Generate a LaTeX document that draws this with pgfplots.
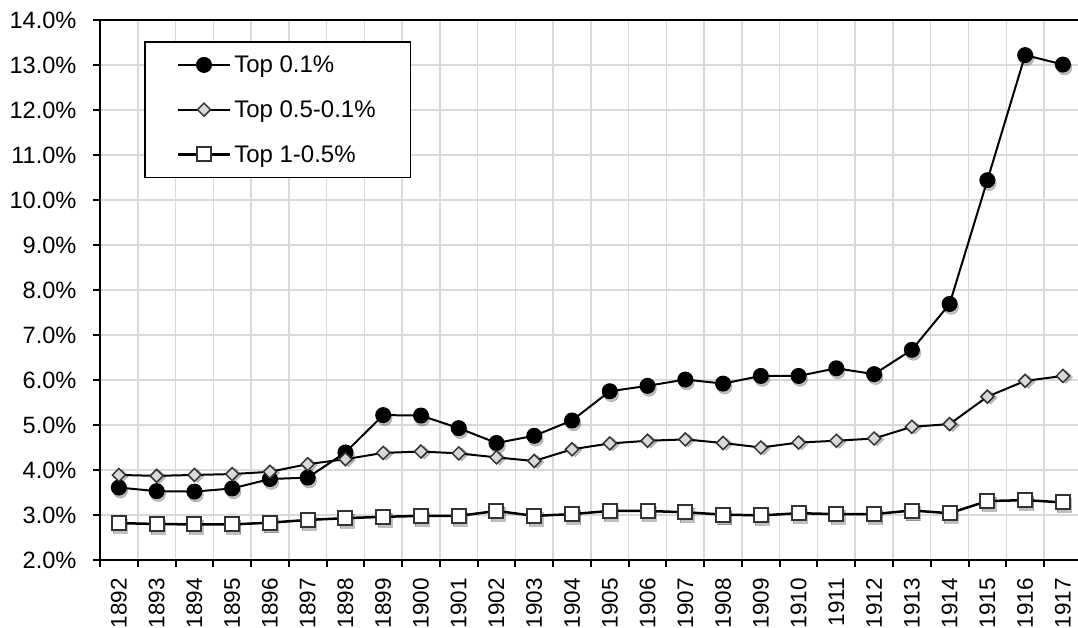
\documentclass[border=0pt]{standalone}
\usepackage{fontspec}
\setmainfont{Liberation Sans}
\usepackage{pgfplots}
\usepackage{pgfplotstable}
\pgfplotsset{compat=1.18}
\definecolor{gridgray}{HTML}{D9D9D9}
\definecolor{diafill}{HTML}{D9D9D9}
\definecolor{edge}{HTML}{333333}

\pgfplotstableread{
x a b c
0 3.61 3.89 2.82
1 3.53 3.87 2.80
2 3.52 3.89 2.79
3 3.59 3.91 2.79
4 3.80 3.96 2.83
5 3.83 4.13 2.89
6 4.39 4.24 2.93
7 5.22 4.38 2.96
8 5.21 4.41 2.98
9 4.93 4.37 2.98
10 4.60 4.28 3.09
11 4.76 4.20 2.98
12 5.10 4.46 3.02
13 5.75 4.59 3.09
14 5.87 4.65 3.09
15 6.01 4.68 3.06
16 5.92 4.60 3.01
17 6.09 4.50 2.99
18 6.09 4.61 3.04
19 6.26 4.65 3.02
20 6.13 4.70 3.02
21 6.67 4.96 3.10
22 7.69 5.02 3.04
23 10.44 5.63 3.31
24 13.22 5.98 3.33
25 13.01 6.09 3.28
}\data

\begin{document}
\begin{tikzpicture}
\begin{axis}[
  scale only axis, width=978bp, height=540bp,
  xmin=-0.5, xmax=25.4, ymin=2, ymax=14,
  axis x line*=bottom, axis y line*=left,
  axis line style={line width=2bp, -},
  xtick={0,...,25},
  xticklabels={1892,1893,1894,1895,1896,1897,1898,1899,1900,1901,1902,1903,1904,1905,1906,1907,1908,1909,1910,1911,1912,1913,1914,1915,1916,1917},
  major x tick style={draw=none},
  minor xtick={-0.5,0.5,...,24.5},
  xminorgrids, ymajorgrids,
  minor grid style={gridgray, line width=1.5bp},
  major grid style={gridgray, line width=1.5bp},
  tick align=outside,
  major tick length=7bp, minor tick length=7bp,
  every tick/.style={black, line width=2bp},
  ytick={2,...,14},
  yticklabels={2.0\%,3.0\%,4.0\%,5.0\%,6.0\%,7.0\%,8.0\%,9.0\%,10.0\%,11.0\%,12.0\%,13.0\%,14.0\%},
  yticklabel style={font=\fontsize{23.6bp}{28bp}\selectfont, xshift=-13bp},
  xticklabel style={font=\fontsize{22.5bp}{27bp}\selectfont, rotate=90, anchor=east, xshift=-7.5bp},
  legend cell align=left,
  legend image code/.code={\draw[mark repeat=2,mark phase=2,#1] plot coordinates {(0bp,0bp) (26bp,0bp) (52bp,0bp)};},
  legend style={at={(0.045,0.961)}, anchor=north west, draw=black, line width=1.5bp, fill=white,
    font=\fontsize{24bp}{28bp}\selectfont, inner xsep=32bp, inner ysep=12bp, row sep=22.5bp,
    nodes={inner xsep=3bp, inner ysep=2bp}},
]
% shadows
\addplot[forget plot, draw=none, mark=*, mark size=7.5bp, mark options={fill=black, draw=none, opacity=0.25, xshift=1.5bp, yshift=-3bp}] table[x=x,y=a] {\data};
\addplot[forget plot, draw=none, mark=square*, mark size=4.6bp, mark options={rotate=45, fill=black, draw=none, opacity=0.25, xshift=1.5bp, yshift=-3bp}] table[x=x,y=b] {\data};
\addplot[forget plot, draw=none, mark=square*, mark size=7bp, mark options={fill=black, draw=none, opacity=0.25, xshift=1.5bp, yshift=-3bp}] table[x=x,y=c] {\data};
% series
\addplot[black, line width=2bp, mark=*, mark size=7.5bp, mark options={fill=black, draw=black, line width=1bp}] table[x=x,y=a] {\data};
\addlegendentry{Top 0.1\%}
\addplot[black, line width=2bp, mark=square*, mark size=4.6bp, mark options={rotate=45, fill=diafill, draw=edge, line width=1.5bp}] table[x=x,y=b] {\data};
\addlegendentry{Top 0.5-0.1\%}
\addplot[black, line width=2.5bp, mark=square*, mark size=7bp, mark options={fill=white, draw=edge, line width=2bp}] table[x=x,y=c] {\data};
\addlegendentry{Top 1-0.5\%}
\draw[black, line width=2bp] (rel axis cs:0,1) -- (rel axis cs:1,1);
\end{axis}
\pgfresetboundingbox
\path (-100bp,-68bp) rectangle (978bp,560bp);
\end{tikzpicture}
\end{document}
